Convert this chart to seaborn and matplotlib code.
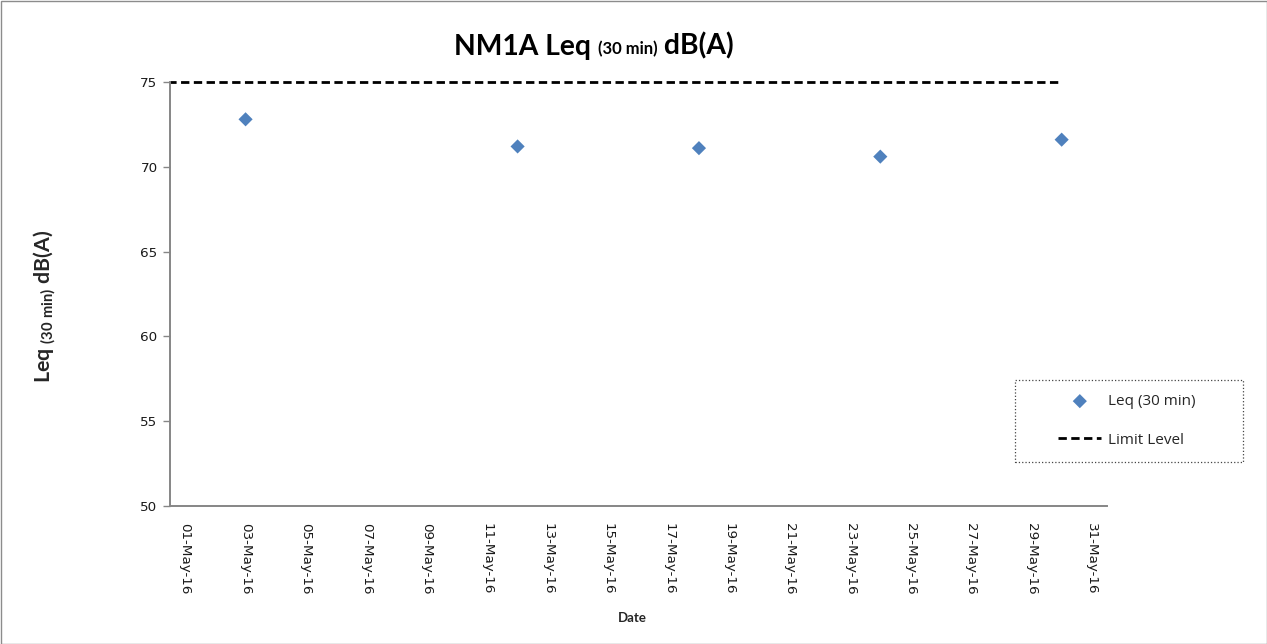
import matplotlib
matplotlib.use("Agg")
import matplotlib.pyplot as plt
import matplotlib.dates as mdates
from matplotlib.patches import Rectangle
from matplotlib.transforms import Bbox, TransformedBbox
from matplotlib.offsetbox import TextArea, HPacker, AnchoredOffsetbox
import seaborn as sns
import pandas as pd

# ---- data ----
leq_dates = ["2016-05-03", "2016-05-12", "2016-05-18", "2016-05-24", "2016-05-30"]
leq_values = [72.8, 71.2, 71.1, 70.6, 71.6]
limit_dates = ["2016-04-30", "2016-05-30"]
limit_values = [75, 75]
axis_start = "2016-05-01"
axis_end = "2016-05-31"
y_ticks = [50, 55, 60, 65, 70, 75]

sns.set_theme(style="white")
plt.rcParams['font.family'] = ['DejaVu Sans']
plt.rcParams['mathtext.fontset'] = 'custom'
plt.rcParams['mathtext.rm'] = 'Lato'
plt.rcParams['mathtext.bf'] = 'Lato:bold'
plt.rcParams['mathtext.it'] = 'Lato:italic'

leq_df = pd.DataFrame({"date": pd.to_datetime(leq_dates), "value": leq_values})
lim_df = pd.DataFrame({"date": pd.to_datetime(limit_dates), "value": limit_values})

fig = plt.figure(figsize=(12.67, 6.44), dpi=100)
ax = fig.add_axes([170/1267, 1-506/644, (1107-170)/1267, (506-82)/644])

sns.scatterplot(data=leq_df, x="date", y="value", marker="D", s=52,
                color="#4F81BD", edgecolor="none", ax=ax, label="Leq (30 min)", zorder=3)
sns.lineplot(data=lim_df, x="date", y="value", color="black", linewidth=2.0,
             ax=ax, label="Limit Level", zorder=2)
line = ax.lines[-1]
line.set_dashes((3.0, 1.6))
line.set_clip_box(TransformedBbox(Bbox([[0, -0.05], [1, 1.05]]), ax.transAxes))

start = pd.Timestamp(axis_start)
end = pd.Timestamp(axis_end)
ax.set_xlim(start - pd.Timedelta(hours=12), end + pd.Timedelta(hours=12))
ax.set_xticks(pd.date_range(start, end, freq="2D"))
ax.xaxis.set_major_formatter(mdates.DateFormatter("%d-%b-%y"))
ax.set_ylim(50, 75)
ax.set_yticks(y_ticks)

for lab in ax.get_xticklabels():
    lab.set_rotation(-90)
    lab.set_ha("center")
    lab.set_va("top")
ax.tick_params(axis="x", length=0, pad=12, labelsize=9.7, colors="#1a1a1a")
ax.tick_params(axis="y", length=5, width=1, color="#868686", direction="out",
               pad=4, labelsize=9.7, labelcolor="#1a1a1a", left=True)

for s in ["top", "right"]:
    ax.spines[s].set_visible(False)
for s in ["left", "bottom"]:
    ax.spines[s].set_color("#868686")
    ax.spines[s].set_linewidth(1.4)
ax.set_xlabel("")
ax.set_ylabel("")

# title built from pieces (main text + smaller subscript)
big = dict(family="Lato", weight="bold", size=20.3, color="black")
small = dict(family="Lato", weight="bold", size=12, color="black")
title_box = HPacker(children=[TextArea("NM1A Leq ", textprops=big),
                              TextArea("(30 min)", textprops=small),
                              TextArea(" dB(A)", textprops=big)],
                    align="baseline", pad=0, sep=0)
anchored = AnchoredOffsetbox(loc="center", child=title_box, frameon=False, pad=0,
                             bbox_to_anchor=(594/1267, 1-46/644),
                             bbox_transform=fig.transFigure, borderpad=0)
fig.add_artist(anchored)

fig.text(45/1267, 1-306/644, r"Leq $\mathbf{_{(30\ min)}}$ dB(A)", rotation=90,
         ha="center", va="center", fontsize=15.3, fontweight="bold", family="Lato")
fig.text(632/1267, 1-618/644, "Date", ha="center", va="center",
         fontsize=9.5, fontweight="bold", family="Lato")

# legend
if ax.legend_:
    ax.legend_.remove()
handles, labels = ax.get_legend_handles_labels()
leg = fig.legend(handles, labels, loc="center",
                 bbox_to_anchor=(1127/1267, 1-421/644), frameon=False,
                 handlelength=2.8, labelspacing=1.55, handletextpad=0.45,
                 prop={"family": "Open Sans", "size": 11})
fig.patches.append(Rectangle((1015/1267, 1-462/644), 228/1267, 82/644,
                             transform=fig.transFigure, fill=False,
                             edgecolor="#444444", linestyle=":", linewidth=0.9))
# outer chart border
fig.patches.append(Rectangle((0.5/1267, 0.5/644), 1-1/1267, 1-1/644,
                             transform=fig.transFigure, fill=False,
                             edgecolor="#8c8c8c", linewidth=1))

fig.savefig("out.png", dpi=100, facecolor="white")
